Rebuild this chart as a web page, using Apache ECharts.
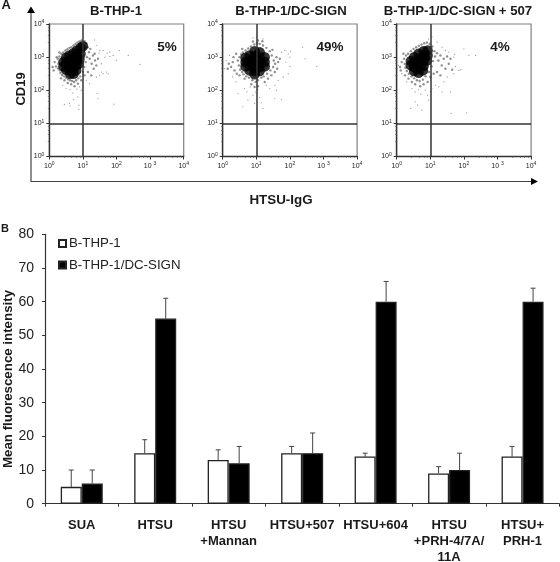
<!DOCTYPE html>
<html><head><meta charset="utf-8">
<style>html,body{margin:0;padding:0;background:#fff}#c{width:560px;height:562px}</style>
<script src="https://cdn.jsdelivr.net/npm/echarts@6/dist/echarts.min.js"></script>
</head><body><div id="c"></div>
<script>
// Panel B
const categories = ['SUA','HTSU','HTSU\n+Mannan','HTSU+507','HTSU+604','HTSU\n+PRH-4/7A/\n11A','HTSU+\nPRH-1'];
const seriesNames = ['B-THP-1','B-THP-1/DC-SIGN'];
const plainValues = [5,15,13,15,14,9,14];
const signValues = [6,55,12,15,60,10,60];
const plainErrorTops = [10,19,16,17,15,11,17];
const signErrorTops = [10,61,17,21,66,15,64];
const yTicks = [0,10,20,30,40,50,60,70,80];

// Panel A, all points as [log10 HTSU-IgG, log10 CD19]
const panelTitles = ['B-THP-1','B-THP-1/DC-SIGN','B-THP-1/DC-SIGN + 507'];
const panelPercents = ['5%','49%','4%'];
const gate = [10,10];
const core1 = [[.42,2.85],[.42,2.72],[.5,2.98],[.5,2.8],[.5,2.62],[.6,3.05],[.6,2.9],[.6,2.75],[.6,2.6],[.62,2.5],[.72,3.12],[.72,2.95],[.72,2.8],[.72,2.65],[.72,2.5],[.82,3.2],[.82,3.05],[.82,2.9],[.8,2.75],[.8,2.6],[.93,3.28],[.93,3.1],[.9,2.95],[.88,2.8],[1.0,3.33]];
const halo1 = [[.25,2.95],[.27,2.8],[.26,2.66],[.3,3.02],[.31,2.6],[.33,2.52],[.36,3.1],[.38,2.46],[.42,3.14],[.44,2.42],[.48,3.2],[.5,2.38],[.54,3.24],[.56,2.33],[.6,3.28],[.62,2.3],[.66,3.3],[.68,2.28],[.72,3.35],[.74,2.25],[.78,3.4],[.8,2.3],[.84,3.44],[.86,2.36],[.9,3.47],[.92,2.42],[.96,3.5],[1.0,2.55],[1.05,3.48],[1.04,2.7],[1.1,3.42],[1.08,2.85],[1.14,3.3],[1.12,3.0],[1.18,3.15],[1.2,2.95],[1.22,3.25],[1.26,2.8],[1.3,3.05],[1.32,2.65],[1.36,2.9],[1.4,2.75],[.22,3.0],[.2,2.72],[.16,2.85],[.1,2.7],[.13,2.6],[.3,3.14],[.35,2.36],[.45,2.3],[.55,2.22],[.65,2.18],[.75,2.12],[.85,2.2],[.95,2.3],[1.05,2.45],[1.15,2.55],[1.25,2.45],[1.35,3.1],[1.45,2.95]];
const sparse1 = [[.4,2.15],[.5,2.05],[.62,2.02],[.7,1.92],[.82,2.03],[.9,2.1],[.6,1.6],[.72,1.72],[.85,1.8],[.88,1.55],[.45,1.57],[.62,1.53],[.88,1.42],[1.45,1.75],[1.92,1.58],[1.55,2.55],[1.6,2.5],[1.7,2.55],[1.75,2.5],[1.55,2.8],[1.65,3.0],[1.72,3.12],[1.8,3.02],[1.8,3.15],[1.9,3.05],[1.6,3.2],[1.48,3.12],[1.4,3.35],[1.5,3.2],[1.4,2.4],[1.5,2.45],[2.0,2.9],[2.08,3.2],[2.35,3.05],[2.7,2.78],[1.35,3.52],[1.42,1.9],[1.1,2.3],[1.2,2.2],[.95,2.0]];
const core2 = [[.68,2.85],[.68,2.72],[.68,2.98],[.8,3.05],[.8,2.9],[.8,2.75],[.8,2.6],[.95,3.18],[.95,3.03],[.95,2.88],[.95,2.73],[.95,2.58],[.95,2.48],[1.1,3.15],[1.1,3],[1.1,2.85],[1.1,2.7],[1.1,2.58],[1.25,3.0],[1.25,2.85],[1.25,2.72]];
const halo2 = [[.45,2.9],[.48,2.75],[.5,3.0],[.52,2.62],[.55,3.08],[.58,2.55],[.6,3.14],[.62,2.48],[.68,3.2],[.7,2.42],[.76,3.26],[.78,2.38],[.84,3.32],[.88,2.3],[.94,3.38],[.98,2.25],[1.02,3.42],[1.05,2.3],[1.1,3.4],[1.15,2.38],[1.2,3.35],[1.22,2.42],[1.3,3.28],[1.32,2.5],[1.4,3.18],[1.42,2.6],[1.46,3.05],[1.5,2.7],[1.52,2.9],[1.56,2.8],[.3,2.85],[.25,2.7],[.35,2.6],[.32,3.0],[.4,3.1],[.42,2.5],[.5,2.45],[.58,3.25],[.65,2.35],[.15,2.65],[.18,2.8],[1.6,3.0],[1.65,2.85],[1.62,2.65],[1.55,2.55],[1.48,3.22],[1.7,2.95],[1.45,2.45],[1.35,2.35],[1.25,2.25],[.9,3.47],[1.05,3.5],[1.18,3.48],[.85,2.18],[.95,2.1],[1.05,2.12]];
const sparse2 = [[.65,2.05],[.72,1.95],[.82,2.1],[.9,1.85],[.98,1.95],[1.05,2.02],[1.1,1.78],[1.15,1.62],[.6,1.5],[1.2,1.45],[1.55,1.75],[1.75,1.72],[1.4,2.05],[1.55,2.15],[1.65,2.3],[1.8,2.4],[1.95,2.5],[2.0,2.72],[1.88,2.85],[2.0,3.0],[1.95,3.1],[2.02,3.18],[1.85,3.2],[1.75,3.15],[2.38,3.3],[2.45,2.95],[2.8,2.72],[.05,2.65],[.1,2.9],[.2,3.05],[.3,2.4],[.4,2.25],[.45,1.9],[1.0,3.6],[.9,3.58],[1.2,3.55],[1.6,2.0],[.75,1.7],[.95,1.6],[1.3,2.15]];
const core3 = [[.42,2.88],[.42,2.75],[.52,3.0],[.52,2.85],[.52,2.7],[.52,2.58],[.65,3.1],[.65,2.95],[.65,2.8],[.65,2.65],[.65,2.53],[.8,3.18],[.8,3.03],[.8,2.88],[.8,2.73],[.78,2.6],[.92,3.2],[.92,3.05],[.9,2.9]];
const halo3 = [[.22,2.95],[.24,2.8],[.26,2.68],[.28,3.05],[.3,2.58],[.34,3.1],[.36,2.5],[.42,3.18],[.44,2.42],[.5,3.25],[.52,2.36],[.58,3.3],[.6,2.3],[.66,3.34],[.68,2.28],[.74,3.38],[.78,2.32],[.82,3.42],[.86,2.42],[.9,3.44],[.96,2.55],[.98,3.4],[1.04,2.72],[1.06,3.32],[1.08,2.88],[1.12,3.18],[1.14,3.02],[1.2,3.12],[1.24,2.9],[1.3,3.05],[1.34,2.75],[1.4,2.95],[1.45,2.65],[1.5,3.02],[1.55,2.8],[.15,2.85],[.1,2.7],[.12,2.6],[.2,3.1],[.25,2.45],[.35,2.35],[.45,2.25],[.55,2.18],[.7,2.12],[.8,2.18],[.92,2.25],[1.0,2.4],[1.1,2.5],[1.2,2.55],[1.3,2.45],[1.6,2.95],[1.65,2.62]];
const sparse3 = [[.3,2.25],[.45,2.05],[.55,1.95],[.65,2.02],[.72,1.88],[.85,2.0],[.92,1.85],[.95,1.7],[.42,1.45],[.75,1.4],[.55,1.65],[.62,1.55],[1.62,1.3],[2.08,1.32],[1.6,1.95],[1.35,1.95],[1.25,2.1],[1.4,2.25],[1.5,2.4],[1.7,2.5],[1.85,2.6],[1.75,2.72],[1.9,2.62],[1.7,3.0],[1.72,3.08],[1.55,3.15],[1.45,3.2],[2.0,3.25],[2.15,3.05],[2.35,3.05],[.05,2.75],[.02,2.65],[.15,2.5],[1.05,3.62],[.95,3.55],[1.15,2.15],[1.05,2.05],[1.0,1.95],[1.2,3.45],[1.35,3.3]];
const tickLabelsX = ['10|0','10|1','10|2','10 |3','10|4'];
const tickLabelsY = ['10|0','10|1','10|2','10|3','10|4'];

const panels = [
  {core:core1,halo:halo1,sparse:sparse1,left:49.3,cx:116,px:167},
  {core:core2,halo:halo2,sparse:sparse2,left:222.7,cx:291,px:330},
  {core:core3,halo:halo3,sparse:sparse3,left:396.7,cx:458,px:500}
];
const fromDecades = p => p.map(([a,b]) => [Math.pow(10,a),Math.pow(10,b)]);
const FONT = '"Liberation Sans",Arial,sans-serif';
const FW = 134.4, FH = 132.5, FT = 24;
const grids=[],xAxes=[],yAxes=[],series=[];
const supFmt = list => v => {
  const i = Math.round(Math.log10(v)); const [b,s] = list[i].split('|');
  return '{b|'+b+'}{s|'+s+'}';
};
const supRich = {b:{fontSize:7,fontFamily:FONT,color:'#222'},s:{fontSize:5,fontFamily:FONT,color:'#222',verticalAlign:'top',lineHeight:9}};
panels.forEach((p,i)=>{
  grids.push({left:p.left,top:FT,width:FW,height:FH,show:true,borderColor:'#808080',borderWidth:1.2,backgroundColor:'#fff',outerBoundsMode:'none'});
  const ax = (list)=>({type:'log',logBase:10,min:1,max:10000,gridIndex:i,
    axisLine:{show:true,onZero:false,lineStyle:{color:'#333',width:1.4}},
    axisTick:{show:true,length:3,lineStyle:{color:'#333',width:1}},
    minorTick:{show:true,length:1.5,splitNumber:5,lineStyle:{color:'#555',width:.6}},
    splitLine:{show:false},
    axisLabel:{formatter:supFmt(list),rich:supRich,margin:5,showMinLabel:true,showMaxLabel:true,hideOverlap:false}});
  xAxes.push(ax(tickLabelsX)); yAxes.push(ax(tickLabelsY));
  const base = {type:'scatter',xAxisIndex:i,yAxisIndex:i,silent:true,animation:false,legendHoverLink:false,tooltip:{show:false}};
  series.push({...base,name:'sparse'+i,data:fromDecades(p.sparse),symbolSize:1.3,itemStyle:{color:'#777',opacity:.7}});
  series.push({...base,name:'halo'+i,data:fromDecades(p.halo),symbolSize:2.4,itemStyle:{color:'#333',opacity:.55}});
  series.push({...base,name:'core'+i,data:fromDecades(p.core),symbolSize:10.5,itemStyle:{color:'#000'},
    markLine:{silent:true,animation:false,symbol:'none',label:{show:false},lineStyle:{color:'#333',width:1.5,type:'solid'},
      data:[{xAxis:gate[0]},{yAxis:gate[1]}]}});
});

// bar panel
const B = panels.length;
const barW = 21, barBorder = '#222';
grids.push({left:45,top:234.3,width:514.3,height:269.4,show:false,outerBoundsMode:'none'});
xAxes.push({type:'category',gridIndex:B,data:categories,
  axisLine:{lineStyle:{color:'#333',width:1.2}},
  axisTick:{show:true,alignWithLabel:false,length:3,lineStyle:{color:'#333',width:1}},
  axisLabel:{interval:0,color:'#1a1a1a',fontFamily:FONT,fontWeight:'bold',fontSize:13,lineHeight:16,margin:14,hideOverlap:false}});
yAxes.push({type:'value',gridIndex:B,min:0,max:80,interval:10,
  axisLine:{show:true,lineStyle:{color:'#333',width:1.2}},
  axisTick:{show:true,length:3,lineStyle:{color:'#333',width:1}},
  splitLine:{show:false},
  axisLabel:{color:'#222',fontFamily:FONT,fontSize:14,margin:11,formatter:v=>yTicks.includes(v)?String(v):''}});
const errSeries = (name,tops,vals,offset)=>({type:'custom',name,xAxisIndex:B,yAxisIndex:B,silent:true,animation:false,z:1,
  data:tops.map((t,i)=>[i,vals[i],t]),encode:{x:0,y:[1,2]},
  renderItem:(params,api)=>{
    const a = api.coord([api.value(0),api.value(1)]), b = api.coord([api.value(0),api.value(2)]);
    const x = a[0]+offset, st = {stroke:'#444',lineWidth:1,fill:null};
    return {type:'group',children:[
      {type:'line',shape:{x1:x,y1:a[1],x2:x,y2:b[1]},style:st},
      {type:'line',shape:{x1:x-2.5,y1:b[1],x2:x+2.5,y2:b[1]},style:st}]};
  }});
series.push(errSeries('plainErr',plainErrorTops,plainValues,-barW/2));
series.push(errSeries('signErr',signErrorTops,signValues,barW/2));
series.push({type:'bar',name:seriesNames[0],xAxisIndex:B,yAxisIndex:B,data:plainValues,barWidth:barW,barGap:0,animation:false,z:3,
  itemStyle:{color:'#fff',borderColor:barBorder,borderWidth:1.3}});
series.push({type:'bar',name:seriesNames[1],xAxisIndex:B,yAxisIndex:B,data:signValues,barWidth:barW,barGap:0,animation:false,z:3,
  itemStyle:{color:'#000',borderColor:'#222',borderWidth:1.3}});

const txt = (text,x,y,size,align,extra)=>({type:'text',x,y,silent:true,z:20,...extra,
  style:{text,x:0,y:0,fill:'#1a1a1a',fontFamily:FONT,fontWeight:'bold',fontSize:size,align:align||'center',verticalAlign:'middle'}});
const graphic = [
  txt('A',1.5,5.5,13,'left'), txt('B',1,229,11,'left'),
  txt('CD19',21,89,13,'center',{rotation:Math.PI/2}),
  txt('HTSU-IgG',281,200,13.4,'center'),
  txt('Mean fluorescence intensity',8,379,13.3,'center',{rotation:Math.PI/2}),
  {type:'polyline',silent:true,shape:{points:[[31,11],[31,181.5],[533,181.5]]},style:{stroke:'#444',lineWidth:1.2,fill:null}},
  {type:'polygon',silent:true,shape:{points:[[31,6.5],[27,13],[35,13]]},style:{fill:'#000'}},
  {type:'polygon',silent:true,shape:{points:[[538,181.5],[531,178],[531,185]]},style:{fill:'#000'}}
];
panels.forEach((p,i)=>{
  graphic.push(txt(panelTitles[i],p.cx,11,13.2));
  graphic.push(txt(panelPercents[i],p.px,47.5,13.5));
});

const chart = echarts.init(document.getElementById('c'),null,{renderer:'canvas'});
chart.setOption({animation:false,backgroundColor:'#fff',
  grid:grids,xAxis:xAxes,yAxis:yAxes,series,graphic,
  legend:{data:seriesNames.map(n=>({name:n})),orient:'vertical',left:53,top:232,icon:'rect',itemWidth:7,itemHeight:7,itemGap:8.5,
    textStyle:{fontFamily:FONT,fontSize:13.3,color:'#222',padding:[0,0,0,-2]},selectedMode:false}
});
</script></body></html>
